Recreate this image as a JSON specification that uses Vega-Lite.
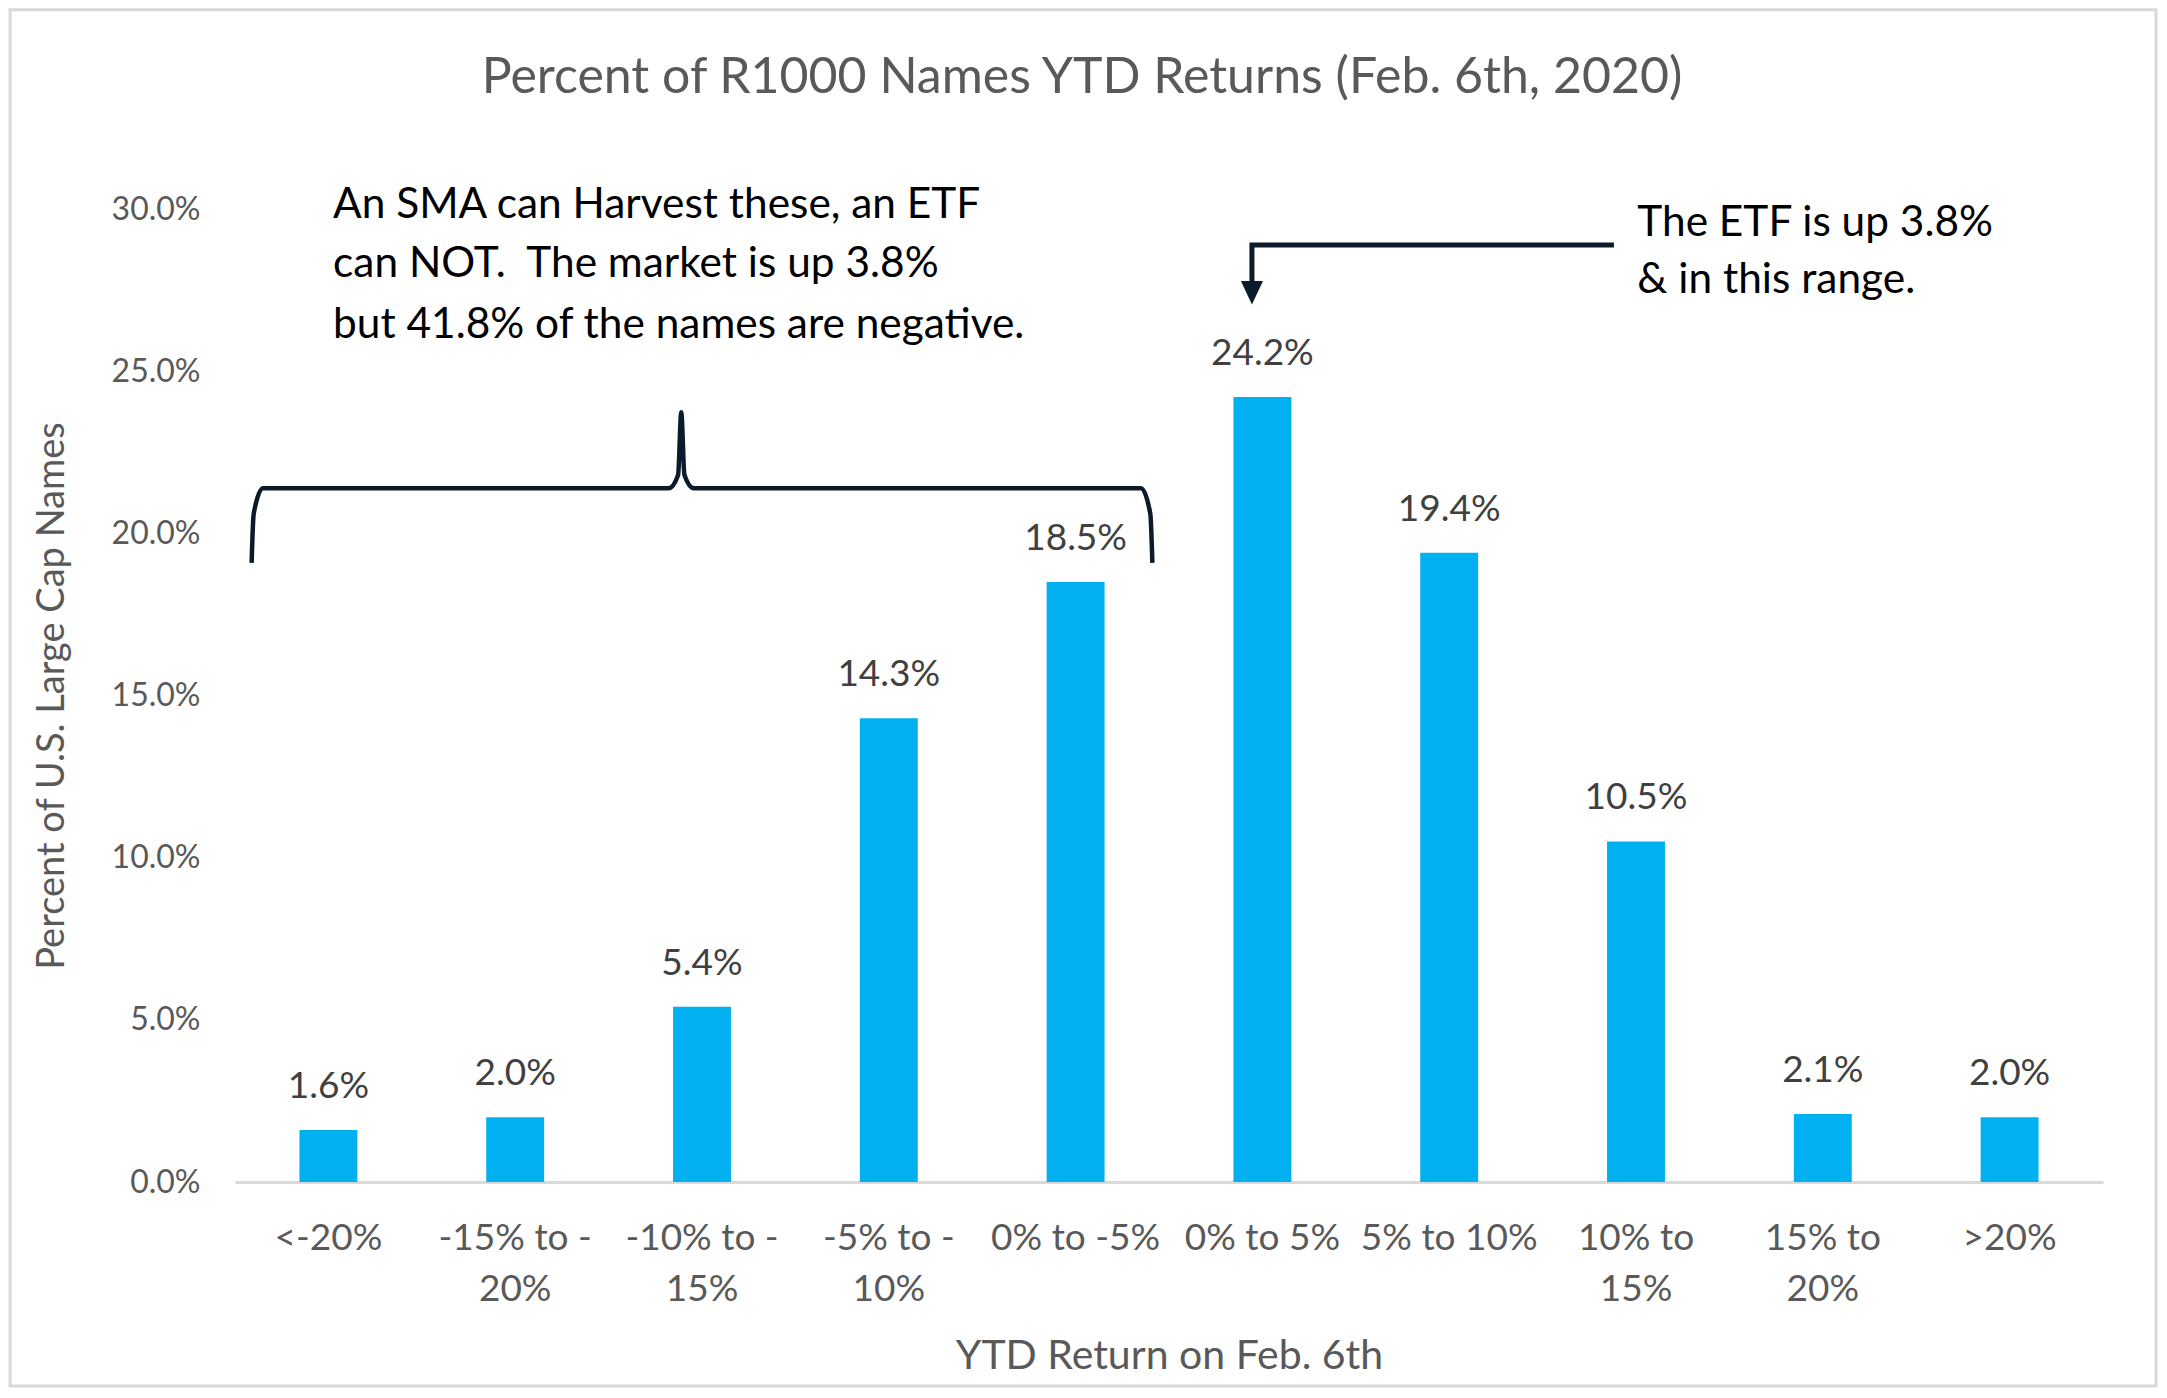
{
  "$schema": "https://vega.github.io/schema/vega-lite/v6.json",
  "width": 1868,
  "height": 973,
  "autosize": {"type": "none"},
  "padding": {"left": 235, "top": 209, "right": 64, "bottom": 216},
  "background": "white",
  "title": {"text": "Percent of R1000 Names YTD Returns (Feb. 6th, 2020)", "frame": "group", "anchor": "middle", "offset": -120, "baseline": "middle", "dx": -87, "font": "Lato", "fontSize": 50, "fontWeight": "normal", "color": "#595959"},
  "config": {"view": {"stroke": null}, "font": "Lato"},
  "datasets": {
    "bars": [
      {"cat": "<-20%", "pct": 1.6, "lbl": "1.6%"},
      {"cat": "-15% to -|20%", "pct": 2.0, "lbl": "2.0%"},
      {"cat": "-10% to -|15%", "pct": 5.4, "lbl": "5.4%"},
      {"cat": "-5% to -|10%", "pct": 14.3, "lbl": "14.3%"},
      {"cat": "0% to -5%", "pct": 18.5, "lbl": "18.5%"},
      {"cat": "0% to 5%", "pct": 24.2, "lbl": "24.2%"},
      {"cat": "5% to 10%", "pct": 19.4, "lbl": "19.4%"},
      {"cat": "10% to|15%", "pct": 10.5, "lbl": "10.5%"},
      {"cat": "15% to|20%", "pct": 2.1, "lbl": "2.1%"},
      {"cat": ">20%", "pct": 2.0, "lbl": "2.0%"}
    ],
    "brace": [
      {"ord": 1, "u": 0.089, "pct": 19.09},
      {"ord": 2, "u": 0.100, "pct": 20.6},
      {"ord": 3, "u": 0.150, "pct": 21.39},
      {"ord": 4, "u": 2.322, "pct": 21.39},
      {"ord": 5, "u": 2.372, "pct": 21.8},
      {"ord": 6, "u": 2.389, "pct": 23.73},
      {"ord": 7, "u": 2.406, "pct": 21.8},
      {"ord": 8, "u": 2.456, "pct": 21.39},
      {"ord": 9, "u": 4.850, "pct": 21.39},
      {"ord": 10, "u": 4.900, "pct": 20.6},
      {"ord": 11, "u": 4.911, "pct": 19.09}
    ],
    "arrow": [
      {"ord": 1, "u": 7.382, "pct": 28.89},
      {"ord": 2, "u": 5.444, "pct": 28.89},
      {"ord": 3, "u": 5.444, "pct": 27.7}
    ],
    "head": [
      {"u": 5.444, "pct": 27.42}
    ],
    "notes": [
      {"u": 0.525, "pct": 30.12, "t": "An SMA can Harvest these, an ETF"},
      {"u": 0.525, "pct": 28.29, "t": "can NOT.\u00a0 The market is up 3.8%"},
      {"u": 0.525, "pct": 26.42, "t": "but 41.8% of the names are negative."},
      {"u": 7.507, "pct": 29.57, "t": "The ETF is up 3.8%"},
      {"u": 7.507, "pct": 27.82, "t": "& in this range."}
    ],
    "frame": [
      {"u": -1.204, "u2": 10.284, "pct": -6.29, "pct2": 36.14}
    ]
  },
  "layer": [
    {
      "data": {"name": "bars"},
      "layer": [
        {
          "mark": {"type": "bar", "color": "#00b0f0"},
          "encoding": {
            "x": {
              "field": "cat", "type": "nominal", "sort": null,
              "scale": {"paddingInner": 0.69, "paddingOuter": 0.345},
              "axis": {
                "title": "YTD Return on Feb. 6th",
                "labelExpr": "split(datum.label, '|')",
                "labelAngle": 0, "labelPadding": 38, "labelLineHeight": 51, "labelBaseline": "top",
                "labelFont": "Lato", "labelFontSize": 37, "labelColor": "#595959", "labelLimit": 400,
                "ticks": false, "domainColor": "#d9d9d9", "domainWidth": 3,
                "titleFont": "Lato", "titleFontSize": 41, "titleFontWeight": "normal", "titleColor": "#595959", "titlePadding": 29
              }
            },
            "y": {
              "field": "pct", "type": "quantitative", "scale": {"domain": [0, 30]},
              "title": "Percent of U.S. Large Cap Names",
              "axis": {
                "values": [0, 5, 10, 15, 20, 25, 30],
                "labelExpr": "format(datum.value, '.1f') + '%'",
                "grid": false, "domain": false, "ticks": false, "labelPadding": 35,
                "labelFont": "Lato", "labelFontSize": 32, "labelColor": "#595959",
                "titleFont": "Lato", "titleFontSize": 38, "titleFontWeight": "normal", "titleColor": "#595959", "titlePadding": 40
              }
            }
          }
        },
        {
          "mark": {"type": "text", "font": "Lato", "fontSize": 37, "color": "#404040", "baseline": "middle", "dy": -43},
          "encoding": {
            "x": {"field": "cat", "type": "nominal", "sort": null, "scale": {"paddingInner": 0.69, "paddingOuter": 0.345}},
            "y": {"field": "pct", "type": "quantitative", "scale": {"domain": [0, 30]}, "title": "Percent of U.S. Large Cap Names"},
            "text": {"field": "lbl"}
          }
        }
      ]
    },
    {
      "data": {"name": "brace"},
      "mark": {"type": "line", "color": "#0c1b2b", "strokeWidth": 4.5, "interpolate": "monotone"},
      "encoding": {
        "x": {"field": "u", "type": "quantitative", "scale": {"domain": [0, 10]}, "axis": null},
        "y": {"field": "pct", "type": "quantitative", "scale": {"domain": [0, 30]}, "title": "Percent of U.S. Large Cap Names"},
        "order": {"field": "ord"}
      }
    },
    {
      "data": {"name": "arrow"},
      "mark": {"type": "line", "color": "#0c1b2b", "strokeWidth": 5},
      "encoding": {
        "x": {"field": "u", "type": "quantitative", "scale": {"domain": [0, 10]}, "axis": null},
        "y": {"field": "pct", "type": "quantitative", "scale": {"domain": [0, 30]}, "title": "Percent of U.S. Large Cap Names"},
        "order": {"field": "ord"}
      }
    },
    {
      "data": {"name": "head"},
      "mark": {"type": "point", "shape": "M-0.94,-1L0.94,-1L0,1Z", "filled": true, "color": "#0c1b2b", "opacity": 1, "size": 552},
      "encoding": {
        "x": {"field": "u", "type": "quantitative", "scale": {"domain": [0, 10]}, "axis": null},
        "y": {"field": "pct", "type": "quantitative", "scale": {"domain": [0, 30]}, "title": "Percent of U.S. Large Cap Names"}
      }
    },
    {
      "data": {"name": "notes"},
      "mark": {"type": "text", "font": "Lato", "fontSize": 42.4, "color": "#000000", "align": "left", "baseline": "middle"},
      "encoding": {
        "x": {"field": "u", "type": "quantitative", "scale": {"domain": [0, 10]}, "axis": null},
        "y": {"field": "pct", "type": "quantitative", "scale": {"domain": [0, 30]}, "title": "Percent of U.S. Large Cap Names"},
        "text": {"field": "t"}
      }
    },
    {
      "data": {"name": "frame"},
      "mark": {"type": "rect", "fill": "transparent", "stroke": "#d9d9d9", "strokeWidth": 3},
      "encoding": {
        "x": {"field": "u", "type": "quantitative", "scale": {"domain": [0, 10]}, "axis": null},
        "x2": {"field": "u2"},
        "y": {"field": "pct", "type": "quantitative", "scale": {"domain": [0, 30]}, "title": "Percent of U.S. Large Cap Names"},
        "y2": {"field": "pct2"}
      }
    }
  ],
  "resolve": {"scale": {"x": "independent"}}
}
